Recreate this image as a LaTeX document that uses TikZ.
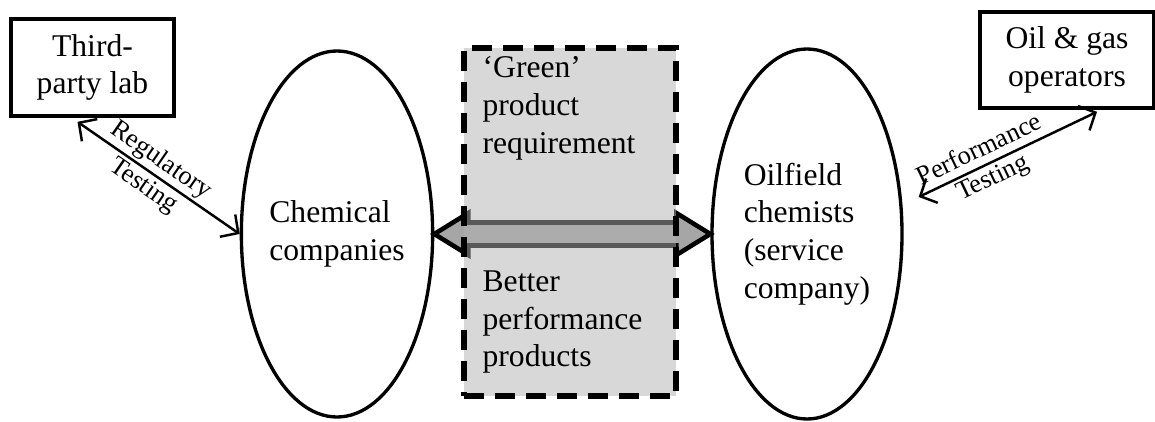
\documentclass[tikz,border=0pt]{standalone}
\usepackage{fontspec}
\setmainfont{Liberation Serif}
\usetikzlibrary{shapes.geometric, arrows.meta, positioning, calc}

\begin{document}
\begin{tikzpicture}[
    every node/.style={font=\fontsize{18}{21.5}\selectfont},
    party/.style={draw, line width=2.1pt, minimum width=3.26cm, minimum height=1.94cm, align=center, inner sep=0pt},
    actor/.style={ellipse, draw, line width=1.9pt, inner sep=0pt, align=left},
    testline/.style={line width=1.4pt, {Straight Barb[length=2.6mm,width=5.4mm]}-{Straight Barb[length=2.6mm,width=5.4mm]}},
    testlabel/.style={font=\fontsize{15}{17.5}\selectfont, align=center, sloped, inner sep=0pt},
    blockarrow/.style={draw=black, fill=black!35, line width=2.6pt},
    reqbox/.style={draw=black, fill=black!30, fill opacity=0.5, line width=3.1pt, dash pattern=on 0.4cm off 0.22cm, minimum width=4.24cm, minimum height=6.96cm, inner sep=0pt},
    reqtext/.style={anchor=north west, inner sep=0pt, align=left}
]
    \useasboundingbox (0,0) rectangle (23.1,8.42);

    % Outside parties
    \node[party] (lab) at (1.85,7.07) {Third-\\party lab};
    \node[party, minimum width=3.48cm, minimum height=1.92cm] (operators) at (21.34,7.22) {Oil \& gas\\operators};

    % Ellipses
    \node[actor, minimum width=3.16cm, minimum height=7.32cm] (chem) at (6.74,3.74) {Chemical\\companies};
    \node[actor, minimum width=3.8cm, minimum height=7.4cm] (oilfield) at (16.14,3.74) {Oilfield\\chemists\\(service\\company)};

    % Block arrow between the two
    \draw[blockarrow] (chem.east) -- ++(0.68,0.42) -- ++(0,-0.19)
        -- ($(oilfield.west)+(-0.68,0.23)$) -- ++(0,0.19) -- (oilfield.west)
        -- ++(-0.68,-0.42) -- ++(0,0.19)
        -- ($(chem.east)+(0.68,-0.23)$) -- ++(0,-0.19) -- cycle;

    % Requirement box
    \node[reqbox] (req) at (11.4,3.98) {};
    \node[reqtext] (green) at ($(req.north west)+(0.42,-0.22)$) {`Green'\\product\\requirement};
    \node[reqtext] (better) at ($(req.north west)+(0.42,-4.5)$) {Better\\performance\\products};

    % Testing links
    \coordinate (perf) at ($(oilfield.east)+(0.3,0.74)$);
    \draw[testline] ([xshift=-0.3cm,yshift=-0.08cm]lab.south) -- (chem.west)
        node[testlabel, pos=0.46] {Regulatory\\Testing};
    \draw[testline] ([xshift=0.6cm,yshift=-0.04cm]operators.south) -- (perf)
        node[testlabel, pos=0.62] {Performance\\Testing};

\end{tikzpicture}
\end{document}
